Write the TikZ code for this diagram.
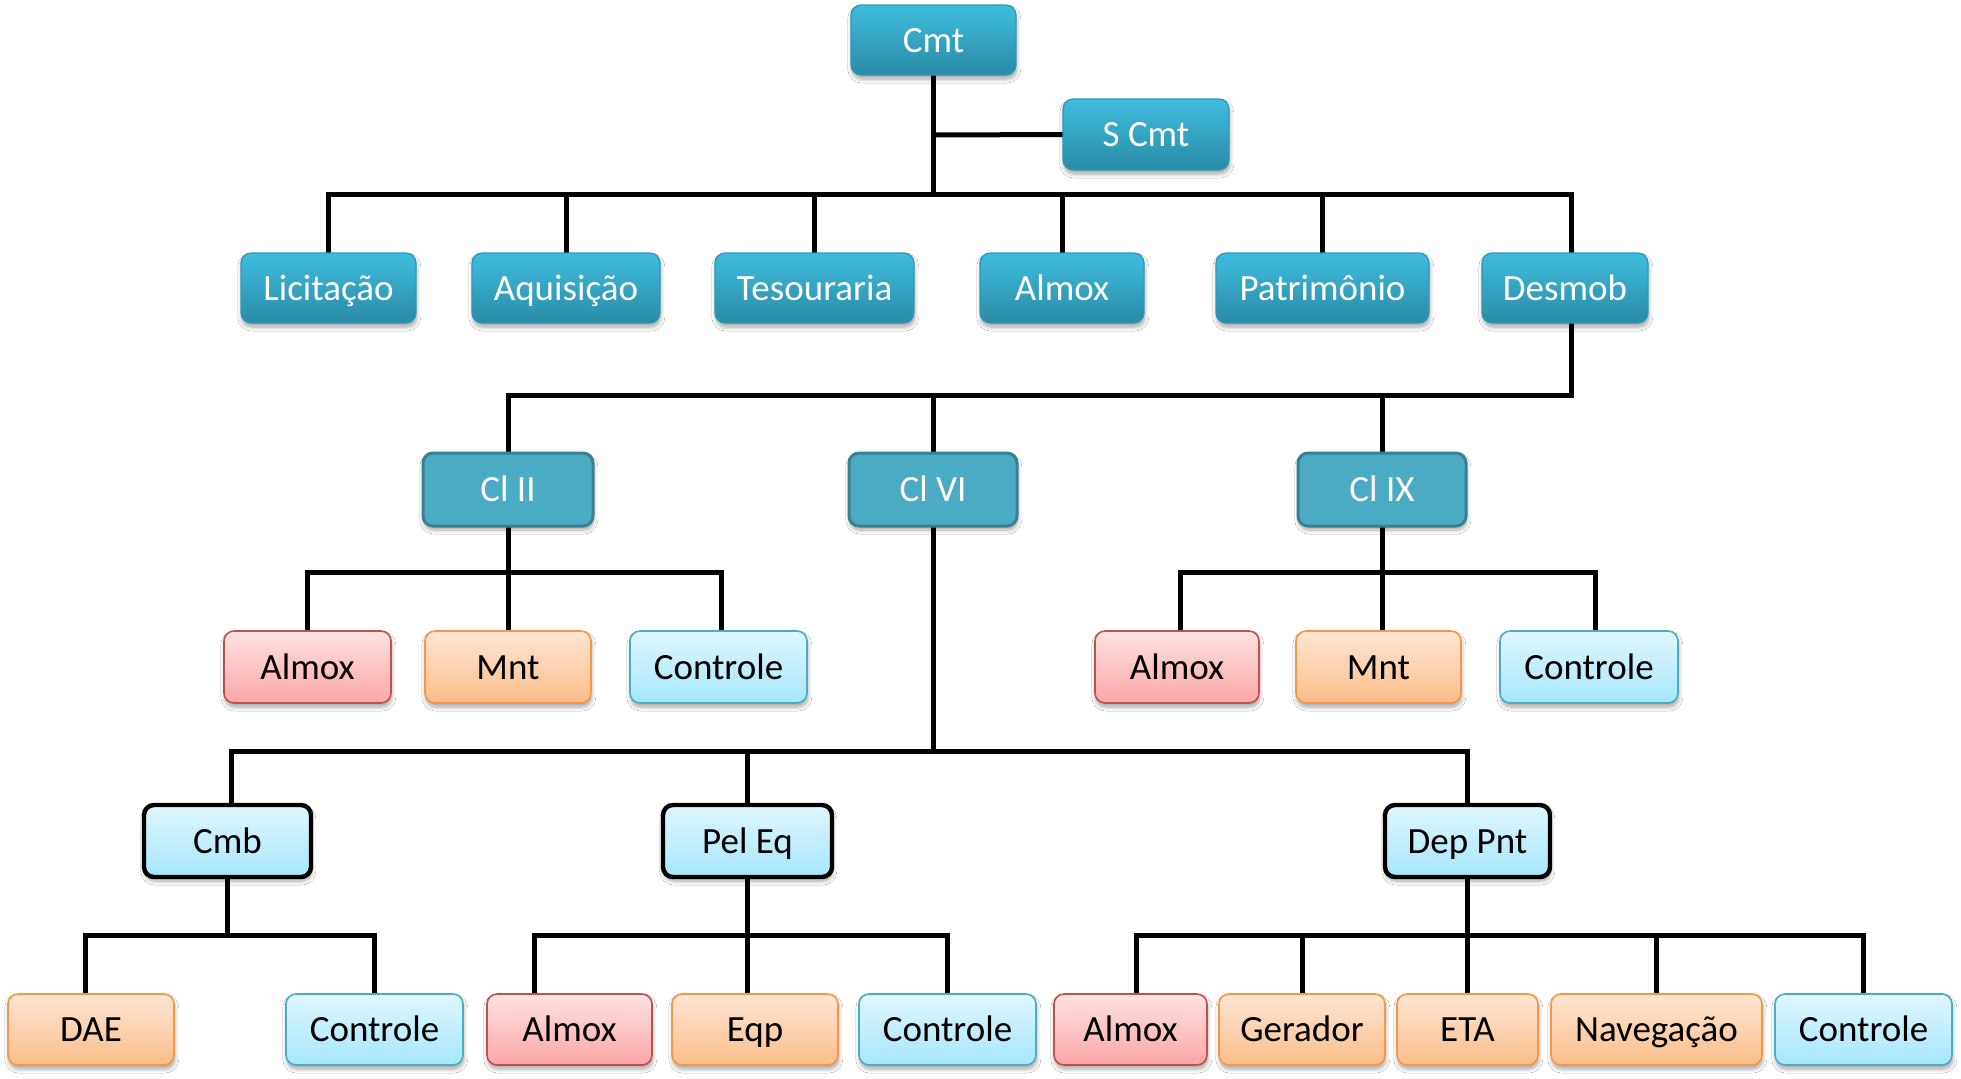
\documentclass[tikz,border=0pt]{standalone}
\usepackage{fontspec}
\setmainfont{Carlito}
\usetikzlibrary{shadows.blur,backgrounds}
\definecolor{tealtop}{HTML}{3FBCDD}
\definecolor{tealbot}{HTML}{2A8BA7}
\definecolor{tealedge}{HTML}{3198B4}
\definecolor{clfill}{HTML}{4BABC5}
\definecolor{cledge}{HTML}{3A8093}
\definecolor{redtop}{HTML}{FEE2E2}
\definecolor{redbot}{HTML}{FCA6A6}
\definecolor{rededge}{HTML}{C0504D}
\definecolor{ortop}{HTML}{FEE6D4}
\definecolor{orbot}{HTML}{FBBD89}
\definecolor{oredge}{HTML}{F79646}
\definecolor{bltop}{HTML}{E0F7FE}
\definecolor{blbot}{HTML}{A5E6FB}
\definecolor{bledge}{HTML}{4BACC6}
\tikzset{
  base/.style={rounded corners=5pt, inner sep=0pt, align=center,
    text height=12pt, text depth=0pt,
    font=\fontsize{18.5}{20}\selectfont,
    blur shadow={shadow blur steps=6, shadow xshift=0.4pt, shadow yshift=-2pt, shadow opacity=35, shadow blur radius=2pt}},
  tealbox/.style={base, top color=tealtop, bottom color=tealbot, draw=tealedge, line width=0.6pt, text=white},
  clbox/.style={base, fill=clfill, draw=cledge, line width=1.5pt, text=white},
  redbox/.style={base, top color=redtop, bottom color=redbot, draw=rededge, line width=0.8pt, text=black},
  orbox/.style={base, top color=ortop, bottom color=orbot, draw=oredge, line width=0.8pt, text=black},
  blbox/.style={base, top color=bltop, bottom color=blbot, draw=bledge, line width=0.8pt, text=black},
  blkbox/.style={base, top color=bltop, bottom color=blbot, draw=black, line width=2.2pt, text=black},
  wh/.style 2 args={minimum width=#1*0.5pt, minimum height=#2*0.5pt},
  link/.style={draw=black, line width=2.5pt, line cap=rect, line join=miter}
}
\begin{document}
\begin{tikzpicture}[x=0.5pt, y=-0.5pt]
\useasboundingbox (0,0) rectangle (1961,1078);
% bar levels
\coordinate (b1) at (0,194);
\coordinate (b2) at (0,395);
\coordinate (b3) at (0,572);
\coordinate (b4) at (0,751);
\coordinate (b5) at (0,935);
\coordinate (bs) at (0,135);

\path
 node[tealbox, wh={165}{70}] (cmt) at (933.5,40) {Cmt}
 node[tealbox, wh={166}{71}] (scmt) at (1146,134.5) {S Cmt}
 node[tealbox, wh={175}{70}] (lic) at (328.5,288) {Licitação}
 node[tealbox, wh={188}{70}] (aqu) at (566,288) {Aquisição}
 node[tealbox, wh={199}{70}] (tes) at (814.5,288) {Tesouraria}
 node[tealbox, wh={164}{70}] (alm) at (1062,288) {Almox}
 node[tealbox, wh={213}{70}] (pat) at (1322.5,288) {Patrimônio}
 node[tealbox, wh={166}{70}] (des) at (1565,288) {Desmob}
 node[clbox, wh={170}{73}] (c2) at (508,489.5) {Cl II}
 node[clbox, wh={168}{73}] (c6) at (933,489.5) {Cl VI}
 node[clbox, wh={168}{73}] (c9) at (1382,489.5) {Cl IX}
 node[redbox, wh={167}{72}] (c2a) at (307.5,667) {Almox}
 node[orbox, wh={166}{72}] (c2m) at (508,667) {Mnt}
 node[blbox, wh={177}{72}] (c2c) at (718.5,667) {Controle}
 node[redbox, wh={164}{72}] (c9a) at (1177,667) {Almox}
 node[orbox, wh={165}{72}] (c9m) at (1378.5,667) {Mnt}
 node[blbox, wh={178}{72}] (c9c) at (1589,667) {Controle}
 node[blkbox, wh={167}{72}] (cmb) at (227.5,841) {Cmb}
 node[blkbox, wh={169}{72}] (pel) at (747.5,841) {Pel Eq}
 node[blkbox, wh={165}{72}] (dep) at (1467.5,841) {Dep Pnt}
 node[orbox, wh={166}{71}] (dae) at (91,1029.5) {DAE}
 node[blbox, wh={177}{71}] (cmbc) at (374.5,1029.5) {Controle}
 node[redbox, wh={165}{71}] (pela) at (569.5,1029.5) {Almox}
 node[orbox, wh={166}{71}] (pele) at (755,1029.5) {Eqp}
 node[blbox, wh={177}{71}] (pelc) at (947.5,1029.5) {Controle}
 node[redbox, wh={153}{71}] (depa) at (1130.5,1029.5) {Almox}
 node[orbox, wh={166}{71}] (depg) at (1302,1029.5) {Gerador}
 node[orbox, wh={141}{71}] (depe) at (1467.5,1029.5) {ETA}
 node[orbox, wh={211}{71}] (depn) at (1656.5,1029.5) {Navegação}
 node[blbox, wh={177}{71}] (depc) at (1863.5,1029.5) {Controle};

\begin{scope}[on background layer]
\fill[white] (0,0) rectangle (1961,1078);
% level 1
\draw[link] (cmt.south) -- (cmt.south |- b1);
\draw[link] (cmt.south |- bs) -- (scmt.west);
\draw[link] (lic.north |- b1) -- ([xshift=3pt]des.north |- b1);
\foreach \n in {lic,aqu,tes,alm,pat} \draw[link] (\n.north) -- (\n.north |- b1);
\draw[link] ([xshift=3pt]des.north) -- ([xshift=3pt]des.north |- b1);
% level 2
\draw[link] ([xshift=3pt]des.south) -- ([xshift=3pt]des.south |- b2);
\draw[link] (c2.north |- b2) -- ([xshift=3pt]des.south |- b2);
\foreach \n in {c2,c6,c9} \draw[link] (\n.north) -- (\n.north |- b2);
% Cl II children
\draw[link] (c2.south) -- (c2.south |- b3);
\draw[link] (c2a.north |- b3) -- ([xshift=1.5pt]c2c.north |- b3);
\draw[link] (c2a.north) -- (c2a.north |- b3);
\draw[link] (c2m.north) -- (c2m.north |- b3);
\draw[link] ([xshift=1.5pt]c2c.north) -- ([xshift=1.5pt]c2c.north |- b3);
% Cl IX children
\draw[link] (c9.south) -- (c9.south |- b3);
\draw[link] ([xshift=1.5pt]c9a.north |- b3) -- ([xshift=3pt]c9c.north |- b3);
\draw[link] ([xshift=1.5pt]c9a.north) -- ([xshift=1.5pt]c9a.north |- b3);
\draw[link] ([xshift=1.75pt]c9m.north) -- ([xshift=1.75pt]c9m.north |- b3);
\draw[link] ([xshift=3pt]c9c.north) -- ([xshift=3pt]c9c.north |- b3);
% Cl VI children
\draw[link] (c6.south) -- (c6.south |- b4);
\draw[link] ([xshift=1.75pt]cmb.north |- b4) -- (dep.north |- b4);
\draw[link] ([xshift=1.75pt]cmb.north) -- ([xshift=1.75pt]cmb.north |- b4);
\draw[link] (pel.north) -- (pel.north |- b4);
\draw[link] (dep.north) -- (dep.north |- b4);
% Cmb children
\draw[link] (cmb.south) -- (cmb.south |- b5);
\draw[link] ([xshift=-3pt]dae.north |- b5) -- (cmbc.north |- b5);
\draw[link] ([xshift=-3pt]dae.north) -- ([xshift=-3pt]dae.north |- b5);
\draw[link] (cmbc.north) -- (cmbc.north |- b5);
% Pel Eq children
\draw[link] (pel.south) -- (pel.south |- b5);
\draw[link] ([xshift=-17.5pt]pela.north |- b5) -- (pelc.north |- b5);
\draw[link] ([xshift=-17.5pt]pela.north) -- ([xshift=-17.5pt]pela.north |- b5);
\draw[link] ([xshift=-4pt]pele.north) -- ([xshift=-4pt]pele.north |- b5);
\draw[link] (pelc.north) -- (pelc.north |- b5);
% Dep Pnt children
\draw[link] (dep.south) -- (dep.south |- b5);
\draw[link] ([xshift=3pt]depa.north |- b5) -- (depc.north |- b5);
\draw[link] ([xshift=3pt]depa.north) -- ([xshift=3pt]depa.north |- b5);
\foreach \n in {depg,depe,depn,depc} \draw[link] (\n.north) -- (\n.north |- b5);
\end{scope}
\end{tikzpicture}
\end{document}
